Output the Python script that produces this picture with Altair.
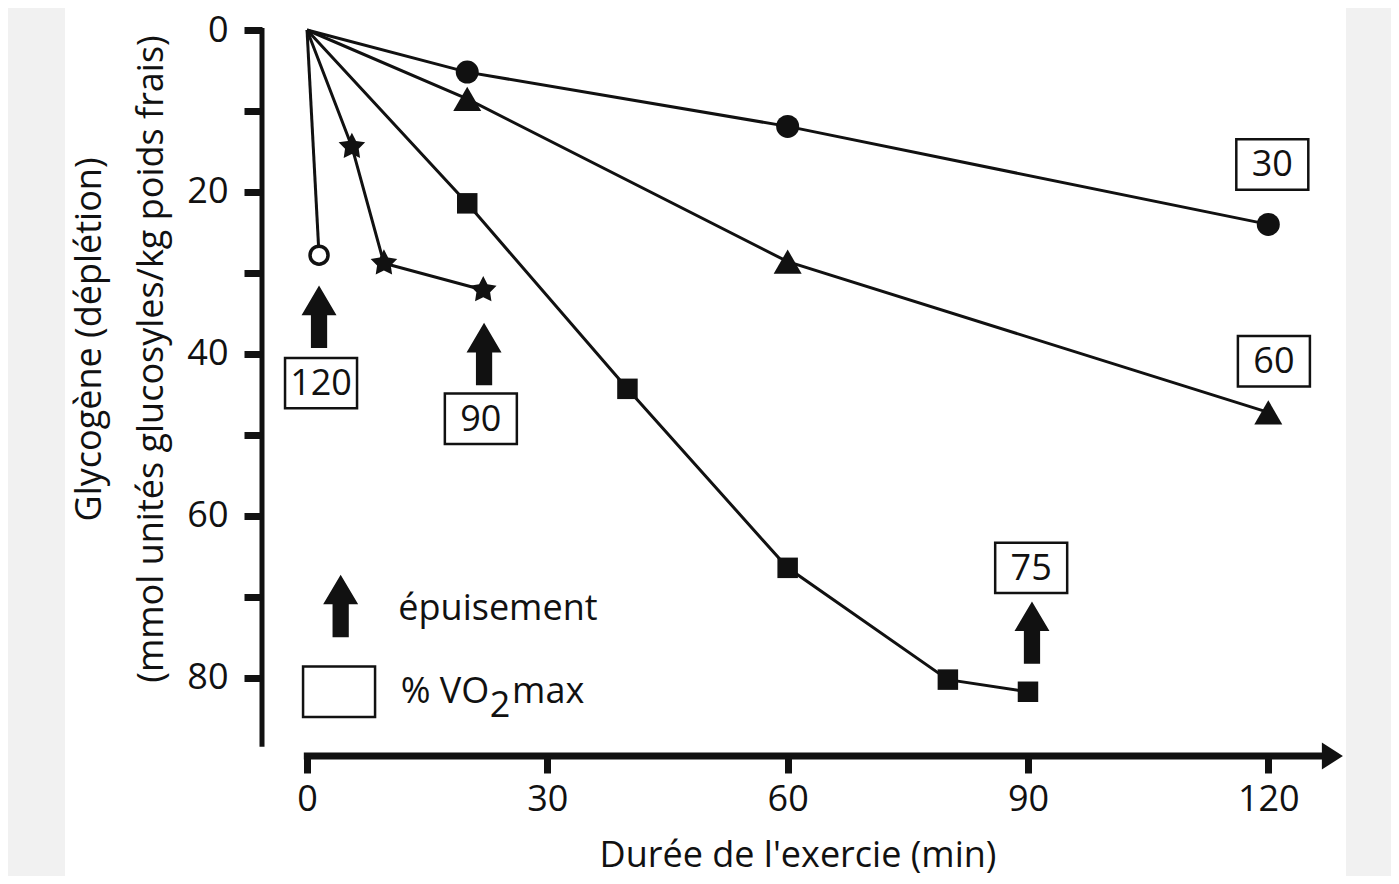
import altair as alt
import pandas as pd

# ---- data ----
t_30 = [0, 20, 60, 120]
g_30 = [0, 5.2, 11.9, 24.0]
t_60 = [0, 20, 60, 120]
g_60 = [0, 8.5, 28.6, 47.2]
t_75 = [0, 20, 40, 60, 80, 90]
g_75 = [0, 21.4, 44.3, 66.4, 80.2, 81.7]
t_90 = [0, 5.6, 9.6, 22.0]
g_90 = [0, 14.4, 28.8, 32.1]
t_120 = [0, 1.5]
g_120 = [0, 27.8]

# exhaustion arrows (last one is the legend arrow)
arrow_t = [1.5, 22.1, 90.5, 4.2]
arrow_g = [35.4, 40.0, 74.4, 71.1]

# % VO2max boxes (last one is the empty legend box)
box_labels = ["120", "90", "75", "30", "60", ""]
box_t = [1.75, 21.7, 90.4, 120.5, 120.7, 4.0]
box_g = [43.6, 48.0, 66.4, 16.6, 40.9, 81.7]

x_ticks = [0, 30, 60, 90, 120]
y_ticks = [0, 10, 20, 30, 40, 50, 60, 70, 80]

FONT = "Open Sans"
INK = "#111111"
FS = 36

STAR = ("M0,-1 L0.3,-0.41 L0.951,-0.309 L0.49,0.16 L0.588,0.809 L0,0.52 "
        "L-0.588,0.809 L-0.49,0.16 L-0.951,-0.309 L-0.3,-0.41 Z")
ARROW = "M0,-1 L0.56,-0.05 L0.26,-0.05 L0.26,1 L-0.26,1 L-0.26,-0.05 L-0.56,-0.05 Z"
RECT = "M-1,-0.7 L1,-0.7 L1,0.7 L-1,0.7 Z"
HEAD = "M-0.78,-1 L0.78,0 L-0.78,1 Z"

rows = []
for name, ts, gs in [("30", t_30, g_30), ("60", t_60, g_60), ("75", t_75, g_75),
                     ("90", t_90, g_90), ("120", t_120, g_120)]:
    for i, (t, g) in enumerate(zip(ts, gs)):
        rows.append({"series": name, "i": i, "t": t, "g": g})
df = pd.DataFrame(rows)
pts = df[df["t"] > 0]

xs = alt.Scale(domain=[-5.62, 129.7], nice=False, zero=False)
ys = alt.Scale(domain=[0, 89.63], nice=False, zero=False, reverse=True)

x_axis = alt.Axis(values=x_ticks, domain=False, grid=False, tickSize=17, tickWidth=7,
                  tickColor=INK, labelFont=FONT, labelFontSize=FS, labelColor=INK,
                  labelPadding=9, title="Durée de l'exercie (min)", titleFont=FONT,
                  titleFontSize=FS, titleFontWeight="normal", titleColor=INK,
                  titleX=535.5, titleY=110, titleBaseline="alphabetic", zindex=1)
y_axis = alt.Axis(values=y_ticks, domain=False, grid=False, tickSize=18, tickWidth=7,
                  tickColor=INK, labelFont=FONT, labelFontSize=FS, labelColor=INK,
                  labelPadding=16, labelExpr="datum.value % 20 == 0 ? datum.label : ''",
                  title=None, zindex=1)

one = pd.DataFrame({"a": [0]})

white = alt.Chart(one).mark_rect(color="#ffffff").encode(
    x=alt.value(-197), x2=alt.value(1084), y=alt.value(-22), y2=alt.value(846))

lines = alt.Chart(df).mark_line(color=INK, strokeWidth=3).encode(
    x=alt.X("t:Q", scale=xs, axis=x_axis),
    y=alt.Y("g:Q", scale=ys, axis=y_axis),
    detail="series:N",
    order="i:Q",
)


def markers(name, shape, size, filled=True, sw=0.0):
    sub = pts[pts["series"] == name]
    if filled:
        mk = alt.Chart(sub).mark_point(shape=shape, size=size, filled=True,
                                       color=INK, opacity=1)
    else:
        mk = alt.Chart(sub).mark_point(shape=shape, size=size, filled=False,
                                       color=INK, fill="#ffffff", fillOpacity=1,
                                       strokeWidth=sw, opacity=1)
    return mk.encode(x=alt.X("t:Q", scale=xs), y=alt.Y("g:Q", scale=ys))


m30 = markers("30", "circle", 529)
m60 = markers("60", "triangle-up", 784)
m75 = markers("75", "square", 420)
m90 = markers("90", STAR, 780)
m120 = markers("120", "circle", 324, filled=False, sw=3.5)

ax_df = pd.DataFrame({"x1": [-5.62], "y1": [-0.25], "y2": [88.5]})
y_line = alt.Chart(ax_df).mark_rule(color=INK, strokeWidth=5).encode(
    x=alt.X("x1:Q", scale=xs), y=alt.Y("y1:Q", scale=ys), y2="y2:Q")
xl_df = pd.DataFrame({"x1": [-0.4], "x2": [127.0], "y": [89.63]})
x_line = alt.Chart(xl_df).mark_rule(color=INK, strokeWidth=7).encode(
    x=alt.X("x1:Q", scale=xs), x2="x2:Q", y=alt.Y("y:Q", scale=ys))
head_df = pd.DataFrame({"x": [128.0], "y": [89.63]})
x_head = alt.Chart(head_df).mark_point(
    shape=HEAD, size=729, filled=True, color=INK, opacity=1
).encode(x=alt.X("x:Q", scale=xs), y=alt.Y("y:Q", scale=ys))

arr_df = pd.DataFrame({"t": arrow_t, "g": arrow_g})
arrows = alt.Chart(arr_df).mark_point(
    shape=ARROW, size=3900, filled=True, color=INK, opacity=1
).encode(x=alt.X("t:Q", scale=xs), y=alt.Y("g:Q", scale=ys))

box_df = pd.DataFrame({"label": box_labels, "t": box_t, "g": box_g})
boxes = alt.Chart(box_df).mark_point(
    shape=RECT, size=5184, filled=False, color=INK, strokeWidth=2.5, opacity=1
).encode(x=alt.X("t:Q", scale=xs), y=alt.Y("g:Q", scale=ys))
box_text = alt.Chart(box_df).mark_text(
    font=FONT, fontSize=FS, color=INK, align="center", baseline="middle", dy=1
).encode(x=alt.X("t:Q", scale=xs), y=alt.Y("g:Q", scale=ys), text="label:N")

leg_df = pd.DataFrame({
    "txt": ["épuisement", "% VO", "max"],
    "t": [11.4, 11.7, 25.6],
    "g": [72.8, 83.1, 83.1],
})
leg_text = alt.Chart(leg_df).mark_text(
    font=FONT, fontSize=FS, color=INK, align="left", baseline="alphabetic"
).encode(x=alt.X("t:Q", scale=xs), y=alt.Y("g:Q", scale=ys), text="txt:N")
sub_df = pd.DataFrame({"txt": ["2"], "t": [22.8], "g": [84.8]})
sub_text = alt.Chart(sub_df).mark_text(
    font=FONT, fontSize=FS, color=INK, align="left", baseline="alphabetic"
).encode(x=alt.X("t:Q", scale=xs), y=alt.Y("g:Q", scale=ys), text="txt:N")

ytitle1 = alt.Chart(one).mark_text(
    text="Glycogène (déplétion)", font=FONT, fontSize=FS, color=INK, angle=270,
    align="center", baseline="middle"
).encode(x=alt.value(-172), y=alt.value(309.5))
ytitle2 = alt.Chart(one).mark_text(
    text="(mmol unités glucosyles/kg poids frais)", font=FONT, fontSize=FS, color=INK,
    angle=270, align="center", baseline="middle"
).encode(x=alt.value(-110), y=alt.value(329))

chart = alt.layer(
    white, lines, m30, m60, m75, m90, m120, y_line, x_line, x_head,
    arrows, boxes, box_text, leg_text, sub_text, ytitle1, ytitle2
).properties(
    width=1084, height=726,
    autosize=alt.AutoSizeParams(type="none"),
    padding={"left": 254, "top": 22, "right": 45, "bottom": 120},
).configure(background="#f1f1f1").configure_view(stroke=None)

chart.save("out.html", embed_options={"renderer": "svg", "actions": False})
